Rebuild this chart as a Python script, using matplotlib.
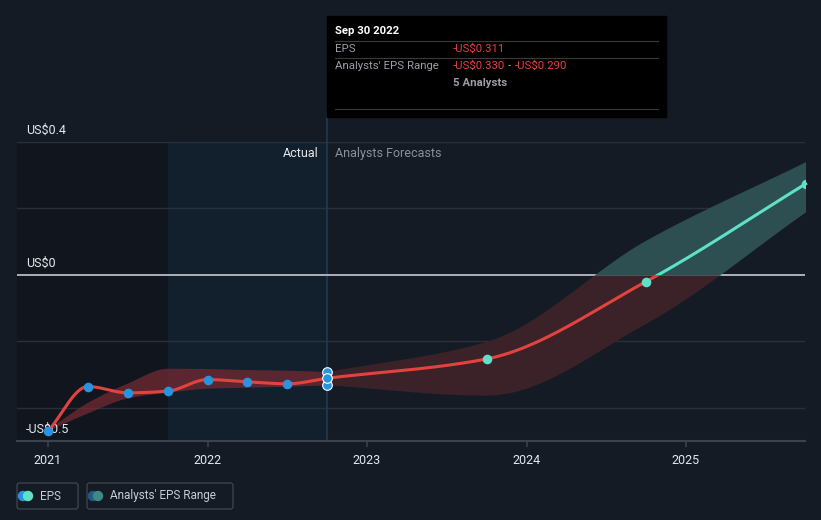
import numpy as np
import matplotlib
matplotlib.use("Agg")
import matplotlib.pyplot as plt
from matplotlib.patches import Rectangle, FancyBboxPatch, Circle

plt.rcParams['font.family'] = ['Roboto', 'DejaVu Sans']

# ---------------- data ----------------
actual_dates = [2021.0, 2021.25, 2021.5, 2021.75, 2022.0, 2022.25, 2022.5, 2022.75]
actual_eps = [-0.471, -0.336, -0.355, -0.350, -0.315, -0.322, -0.328, -0.311]

hist_range_low = [-0.468, -0.415, -0.370, -0.353, -0.341, -0.338, -0.335, -0.331]
hist_range_high = [-0.464, -0.383, -0.325, -0.281, -0.282, -0.285, -0.287, -0.291]

fc_dates = [2022.75, 2023.75, 2024.75, 2025.75]
fc_eps = [-0.311, -0.253, -0.020, 0.274]
fc_low = [-0.331, -0.362, -0.145, 0.190]
fc_high = [-0.291, -0.200, 0.105, 0.341]

y_ticks = [0.4, 0.0, -0.5]
y_tick_labels = ["US$0.4", "US$0", "-US$0.5"]
grid_vals = [0.4, 0.2, 0.0, -0.2, -0.4]
x_ticks = [2021, 2022, 2023, 2024, 2025]
x_tick_labels = ["2021", "2022", "2023", "2024", "2025"]

# ---------------- helpers ----------------
def monotone(x, y, n=200):
    x = np.asarray(x, float); y = np.asarray(y, float)
    h = np.diff(x); d = np.diff(y) / h
    m = np.zeros_like(y)
    m[0] = d[0]; m[-1] = d[-1]
    for i in range(1, len(y) - 1):
        if d[i - 1] * d[i] <= 0:
            m[i] = 0
        else:
            w1 = 2 * h[i] + h[i - 1]; w2 = h[i] + 2 * h[i - 1]
            m[i] = (w1 + w2) / (w1 / d[i - 1] + w2 / d[i])
    xs = np.linspace(x[0], x[-1], n)
    idx = np.clip(np.searchsorted(x, xs) - 1, 0, len(x) - 2)
    t = (xs - x[idx]) / h[idx]
    h00 = 2 * t**3 - 3 * t**2 + 1; h10 = t**3 - 2 * t**2 + t
    h01 = -2 * t**3 + 3 * t**2; h11 = t**3 - t**2
    ys = h00 * y[idx] + h10 * h[idx] * m[idx] + h01 * y[idx + 1] + h11 * h[idx] * m[idx + 1]
    return xs, ys

BG = "#151b25"
RED = "#e2433f"
TEAL = "#5fe0c9"
BLUE = "#2a93de"
W, H = 821, 520

fig = plt.figure(figsize=(8.21, 5.20), dpi=100)
fig.patch.set_facecolor(BG)
ax_l, ax_r, ax_t, ax_b = 17, 805, 142, 441
ax = fig.add_axes([ax_l / W, 1 - ax_b / H, (ax_r - ax_l) / W, (ax_b - ax_t) / H])
ax.set_facecolor(BG)
x0 = 2021 - (48 - 17) / 159.5
x1 = 2021 + (805 - 48) / 159.5
ax.set_xlim(x0, x1)
ax.set_ylim(-0.5, 0.4)
for s in ax.spines.values():
    s.set_visible(False)

# background regions
ax.axvspan(x0, 2021.75, color="#11161e", zorder=0)
ax.axvspan(2021.75, 2022.75, color="#12202e", zorder=0)

# gridlines
for g in grid_vals:
    if g == 0:
        ax.axhline(g, color="#b8bcc4", lw=1.3, zorder=2)
    else:
        ax.axhline(g, color="#2a303b", lw=1.0, zorder=1)
ax.axhline(-0.5, color="#3c424d", lw=1.5, zorder=2, clip_on=False)

# vertical marker line (extends above axes)
ax.axvline(2022.75, ymin=0, ymax=1 + 24 / 299, color="#1e3a52", lw=1.2, clip_on=False, zorder=1)

# historical analyst band
hx, hl = monotone(actual_dates, hist_range_low)
_, hh = monotone(actual_dates, hist_range_high)
ax.fill_between(hx, hl, hh, color="#7a2a33", alpha=0.7, lw=0, zorder=3)

# forecast band, red below 0 / teal above 0
fx, fl = monotone(fc_dates, fc_low)
_, fh = monotone(fc_dates, fc_high)
ax.fill_between(fx, np.minimum(fl, 0), np.minimum(fh, 0), color="#3b2228", lw=0, zorder=3)
ax.fill_between(fx, np.maximum(fl, 0), np.maximum(fh, 0), color="#2d4f51", lw=0, zorder=3)

# lines
ax_x, ax_y = monotone(actual_dates, actual_eps)
ax.plot(ax_x, ax_y, color=RED, lw=2.2, zorder=4, solid_capstyle="round")
fxs, fys = monotone(fc_dates, fc_eps)
below = Rectangle((x0, -1), x1 - x0 + 1, 1, transform=ax.transData)
above = Rectangle((x0, 0), x1 - x0 + 1, 1, transform=ax.transData)
l1, = ax.plot(fxs, fys, color=RED, lw=2.2, zorder=4)
l1.set_clip_path(below)
l2, = ax.plot(fxs, fys, color=TEAL, lw=2.2, zorder=4)
l2.set_clip_path(above)

# y labels
for v, lab in zip(y_ticks, y_tick_labels):
    ax.text(2021 - (48 - 26) / 159.5, v + 12 / 332.5, lab, color="#e6e8ec",
            fontsize=9, va="center", ha="left", zorder=3)

# markers
ax.scatter(actual_dates, actual_eps, s=48, color=BLUE, zorder=6, lw=0)
ax.scatter([2022.75] * 2, [hist_range_high[-1], hist_range_low[-1]], s=48, color=BLUE,
           edgecolor="white", lw=0.8, zorder=6)
ax.scatter([2022.75], [actual_eps[-1]], s=48, color=BLUE, edgecolor="white", lw=0.8, zorder=7)
ax.scatter(fc_dates[1:], fc_eps[1:], s=48, color=TEAL, zorder=6, lw=0)

# Actual / Analysts Forecasts labels
ax.text(2022.75 - 9 / 159.5, 0.4 - 12 / 332.5, "Actual", color="#e6e8ec", fontsize=9,
        ha="right", va="center", zorder=5)
ax.text(2022.75 + 8 / 159.5, 0.4 - 12 / 332.5, "Analysts Forecasts", color="#8a8f98",
        fontsize=9, ha="left", va="center", zorder=5)

# x ticks
ax.set_xticks(x_ticks)
ax.set_xticklabels(x_tick_labels, color="#e6e8ec", fontsize=9)
ax.tick_params(axis="x", length=4, color="#3c424d", width=1.2, pad=5)
ax.set_yticks([])

# ---------------- overlay in pixel coordinates ----------------
ov = fig.add_axes([0, 0, 1, 1], facecolor="none")
ov.set_xlim(0, W)
ov.set_ylim(H, 0)
ov.axis("off")
ov.set_zorder(10)

ov.add_patch(Rectangle((327, 16), 666 - 327, 117 - 16, color="#000000", zorder=1))
for yy in [41, 58, 109]:
    ov.plot([335, 658], [yy, yy], color="#3a3a3a", lw=0.8, zorder=2)
FS = 8.2
ov.text(335, 31, "Sep 30 2022", color="white", fontsize=FS, fontweight="bold", va="center", zorder=3)
ov.text(335, 49, "EPS", color="#9a9ea6", fontsize=FS, va="center", zorder=3)
ov.text(453, 49, "-US$0.311", color="#e8403f", fontsize=FS, va="center", zorder=3)
ov.text(335, 66, "Analysts' EPS Range", color="#9a9ea6", fontsize=FS, va="center", zorder=3)
ov.text(453, 66, "-US$0.330", color="#e8403f", fontsize=FS, va="center", zorder=3)
ov.text(509.5, 66, "-", color="#9a9ea6", fontsize=FS, va="center", ha="center", zorder=3)
ov.text(515, 66, "-US$0.290", color="#e8403f", fontsize=FS, va="center", zorder=3)
ov.text(453, 83, "5 Analysts", color="#9a9ea6", fontsize=FS, fontweight="bold", va="center", zorder=3)

# legend
def legbox(xa, xb):
    ov.add_patch(FancyBboxPatch((xa, 483), xb - xa, 509 - 483,
                                boxstyle="round,pad=0,rounding_size=2.5",
                                facecolor=BG, edgecolor="#3c424d", lw=1.0, zorder=1))

legbox(17, 78)
legbox(87, 233)
for cx, col in [(23, BLUE), (28, TEAL)]:
    ov.add_patch(Circle((cx, 496), 4.5, color=col, zorder=2))
ov.text(40, 496, "EPS", color="#c8ccd2", fontsize=8.5, va="center", zorder=3)
for cx, col in [(93, "#1f5b85"), (98, "#3e8a84")]:
    ov.add_patch(Circle((cx, 496), 4.5, color=col, zorder=2))
ov.text(110, 496, "Analysts' EPS Range", color="#c8ccd2", fontsize=8.5, va="center", zorder=3)

fig.savefig("out.png", dpi=100, facecolor=BG)
